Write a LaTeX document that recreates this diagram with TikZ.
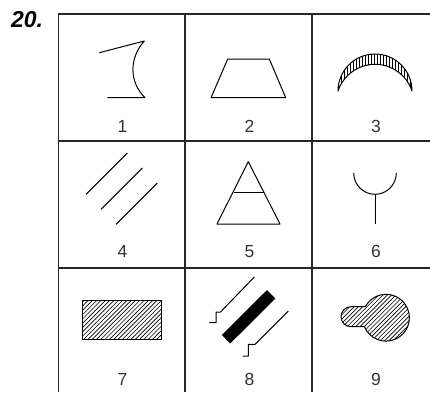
\documentclass[tikz,border=0pt]{standalone}
\usepackage{fontspec}
\setmainfont{Liberation Sans}

\begin{document}
\begin{tikzpicture}[
    x=1pt, y=-1pt,
    grid/.style={line width=1.3pt, black!85},
    sym/.style={line width=1pt, line join=round},
    hline/.style={line width=0.65pt},
    num/.style={font=\fontsize{17.5}{20}\selectfont, text=black!80, inner sep=0pt},
  ]
  \useasboundingbox (0,0) rectangle (430,392);

  % 表の枠
  \draw[grid] (58.5,392) -- (58.5,14) -- (430,14);
  \foreach \x in {185,312} \draw[grid] (\x,14) -- (\x,392);
  \foreach \y in {141,268} \draw[grid] (58.5,\y) -- (430,\y);

  % 問題番号
  \node[font=\fontsize{23}{27}\selectfont\bfseries\itshape, inner sep=0pt] (title) at (27,19.7) {20.};

  % 各マスの番号
  \foreach \n/\x/\y in {1/122.5/126.5, 2/249.5/126.5, 3/376/126.5,
                        4/122.5/251.5, 5/249.5/251.5, 6/376/251.5,
                        7/122.5/379, 8/249.5/379, 9/376/379}
    \node[num] (n\n) at (\x,\y) {\n};

  % 1
  \draw[sym] (99.3,52.7) -- (144.3,41) .. controls (129,58) and (129,82) .. (145,97.7) -- (107.3,97.7);

  % 2
  \draw[sym] (227.7,59) -- (269.3,59) -- (285.7,97.7) -- (211,97.7) -- cycle;

  % 3
  \begin{scope}
    \clip (338,91) arc[start angle=180, end angle=360, radius=37]
      arc[start angle=-18.4, end angle=-161.6, radius=39] -- cycle;
    \foreach \x in {338,341,...,413} \draw[hline] (\x,50) -- (\x,95);
  \end{scope}
  \draw[sym] (338,91) arc[start angle=180, end angle=360, radius=37]
    arc[start angle=-18.4, end angle=-161.6, radius=39] -- cycle;

  % 4
  \foreach \d in {0,15,30}
    \draw[sym] (86+\d,194.3+\d) -- (127.3+\d,153+\d);

  % 5
  \draw[sym] (248.3,161.7) -- (280,224) -- (217,224) -- cycle;
  \draw[sym] (233.7,192.7) -- (264.3,192.7);

  % 6
  \draw[sym] (353.7,173) arc[start angle=180, end angle=0, radius=21.3];
  \draw[sym] (375,194.3) -- (375,224);

  % 7
  \begin{scope}
    \clip (82.3,300) rectangle (161.7,339.3);
    \foreach \x in {40,44.3,...,165} \draw[hline] (\x,340) -- (\x+40,300);
  \end{scope}
  \draw[sym] (82.3,300) rectangle (161.7,339.3);

  % 8
  \fill[black] (267,290) -- (275.4,298.5) -- (230.2,343.5) -- (221.8,335) -- cycle;
  \draw[sym] (254.3,277) -- (220.5,312) -- (216,312) -- (216,322.7) -- (209.3,322.7);
  \draw[sym] (288.3,311) -- (255,344.3) -- (248.3,344.3) -- (248.3,356) -- (242.7,356);

  % 9
  \begin{scope}
    \clip (365.4,306.7) -- (351,306.7) arc[start angle=270, end angle=90, radius=10]
      -- (364.4,326.7) arc[start angle=157.4, end angle=-151.9, radius=23.4] -- cycle;
    \foreach \x in {290,294.3,...,412} \draw[hline] (\x,345) -- (\x+55,290);
  \end{scope}
  \draw[sym] (365.4,306.7) -- (351,306.7) arc[start angle=270, end angle=90, radius=10]
    -- (364.4,326.7) arc[start angle=157.4, end angle=-151.9, radius=23.4] -- cycle;
\end{tikzpicture}
\end{document}
